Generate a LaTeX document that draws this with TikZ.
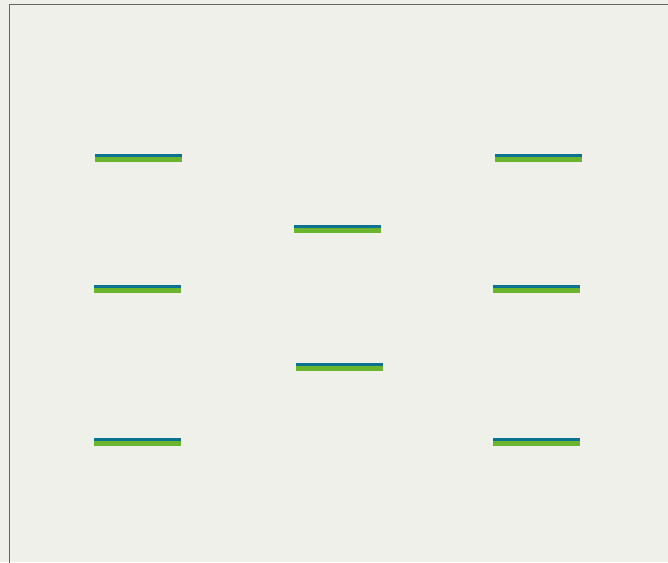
\documentclass[tikz,border=0pt]{standalone}
\definecolor{bg}{RGB}{240,240,235}
\definecolor{barblue}{RGB}{11,114,143}
\definecolor{bargreen}{RGB}{106,180,46}
\definecolor{frame}{RGB}{100,100,100}
\begin{document}
\begin{tikzpicture}[x=1pt,y=-1pt,
  barnode/.style={rectangle, inner sep=0pt, outer sep=0pt, minimum width=87pt, minimum height=8pt,
    fill=bargreen, anchor=north west,
    path picture={\fill[barblue] (path picture bounding box.north west) rectangle ([yshift=-3pt]path picture bounding box.north east);}}]
\useasboundingbox (0,0) rectangle (668,562);
\fill[bg] (0,0) rectangle (668,562);
\draw[frame, line width=1pt] (9.5,570) -- (9.5,4.5) -- (680,4.5);
\node[barnode] (b1) at (95,154) {};
\node[barnode] (b2) at (495,154) {};
\node[barnode] (b3) at (294,225) {};
\node[barnode] (b4) at (94,285) {};
\node[barnode] (b5) at (493,285) {};
\node[barnode] (b6) at (296,363) {};
\node[barnode] (b7) at (94,438) {};
\node[barnode] (b8) at (493,438) {};
\end{tikzpicture}
\end{document}
